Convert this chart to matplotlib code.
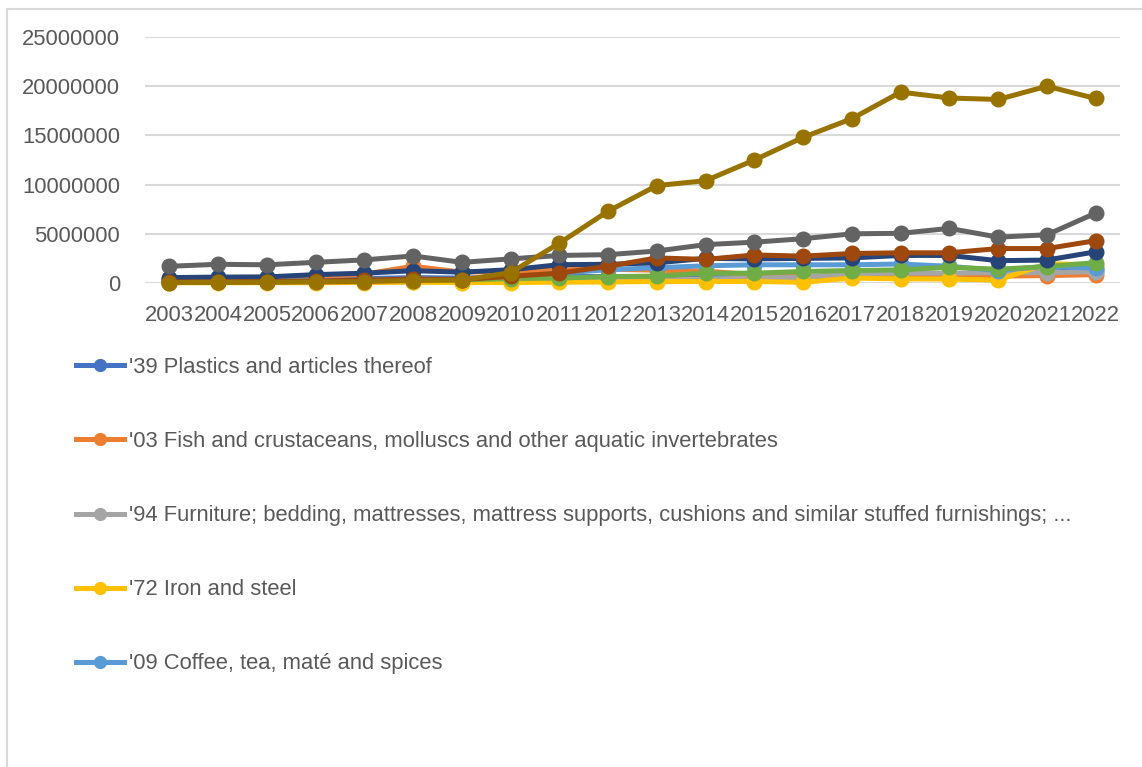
import matplotlib
matplotlib.use("Agg")
import matplotlib.pyplot as plt
from matplotlib.lines import Line2D

plt.rcParams['font.family'] = ['Liberation Sans', 'DejaVu Sans']

years = [str(y) for y in range(2003, 2023)]

plastics = [0.30, 0.32, 0.35, 0.40, 0.45, 0.55, 0.50, 0.60, 0.70, 0.65, 0.60, 0.55, 0.50, 0.60, 0.80, 0.85, 0.90, 0.85, 1.10, 1.30]
fish = [0.30, 0.40, 0.45, 0.60, 0.90, 1.70, 1.10, 1.20, 1.35, 1.40, 1.30, 1.20, 0.85, 0.65, 0.80, 0.85, 0.85, 0.70, 0.75, 0.85]
furniture = [0.05, 0.06, 0.07, 0.08, 0.10, 0.12, 0.10, 0.15, 0.20, 0.25, 0.30, 0.40, 0.50, 0.60, 0.95, 1.00, 1.00, 1.05, 1.05, 1.15]
iron = [0.02, 0.02, 0.03, 0.03, 0.05, 0.08, 0.04, 0.05, 0.08, 0.10, 0.15, 0.15, 0.15, 0.07, 0.50, 0.42, 0.40, 0.30, 1.95, 1.85]
coffee = [0.15, 0.18, 0.20, 0.25, 0.30, 0.40, 0.35, 0.60, 1.00, 1.35, 1.55, 1.75, 1.85, 1.85, 1.85, 1.93, 1.70, 1.27, 1.70, 1.50]
series6 = [0.10, 0.12, 0.15, 0.18, 0.22, 0.30, 0.30, 0.45, 0.50, 0.65, 0.70, 1.00, 1.00, 1.17, 1.27, 1.33, 1.60, 1.40, 1.67, 2.07]
series7 = [0.55, 0.60, 0.62, 0.85, 1.00, 1.25, 1.10, 1.35, 1.86, 1.90, 2.05, 2.50, 2.45, 2.50, 2.55, 2.80, 2.80, 2.27, 2.33, 3.17]
series8 = [0.10, 0.12, 0.15, 0.20, 0.30, 0.40, 0.35, 0.68, 1.00, 1.70, 2.55, 2.40, 2.85, 2.73, 3.00, 3.07, 3.07, 3.50, 3.50, 4.30]
series9 = [1.70, 1.90, 1.85, 2.10, 2.35, 2.75, 2.10, 2.45, 2.80, 2.88, 3.25, 3.90, 4.15, 4.50, 5.00, 5.05, 5.55, 4.66, 4.90, 7.10]
series10 = [0.05, 0.06, 0.07, 0.10, 0.15, 0.25, 0.30, 1.05, 4.05, 7.30, 9.90, 10.40, 12.50, 14.80, 16.70, 19.40, 18.80, 18.65, 20.00, 18.75]

legend_labels = [
    "'39 Plastics and articles thereof",
    "'03 Fish and crustaceans, molluscs and other aquatic invertebrates",
    "'94 Furniture; bedding, mattresses, mattress supports, cushions and similar stuffed furnishings; ...",
    "'72 Iron and steel",
    "'09 Coffee, tea, maté and spices",
]

all_series = [plastics, fish, furniture, iron, coffee, series6, series7, series8, series9, series10]
colors = ['#4472C4', '#ED7D31', '#A5A5A5', '#FFC000', '#5B9BD5',
          '#70AD47', '#264478', '#9E480E', '#636363', '#997300']

W, H = 1142, 767
fig = plt.figure(figsize=(W / 100, H / 100), dpi=100)
fig.patch.set_facecolor('white')

ax = fig.add_axes([145 / W, (H - 283) / H, 975 / W, 246 / H])
x = list(range(len(years)))
for s, c in zip(all_series, colors):
    ax.plot(x, [v * 1e6 for v in s], color=c, lw=3.6, marker='o', ms=10.5,
            solid_joinstyle='round', clip_on=False, zorder=3)

ax.set_xlim(-0.5, len(years) - 0.5)
ax.set_ylim(0, 25000000)
ax.set_yticks([0, 5000000, 10000000, 15000000, 20000000, 25000000])
ax.set_yticklabels(['0', '5000000', '10000000', '15000000', '20000000', '25000000'])
ax.set_xticks(x)
ax.set_xticklabels(years)
ax.grid(axis='y', color='#D9D9D9', lw=1.5, zorder=0)
ax.set_axisbelow(True)
for sp in ax.spines.values():
    sp.set_visible(False)
ax.tick_params(axis='both', length=0, labelsize=15.8, labelcolor='#595959')
ax.tick_params(axis='y', pad=18)
ax.tick_params(axis='x', pad=16)

# chart border (top and left visible)
fig.add_artist(Line2D([7 / W, 7 / W], [0, 1 - 9 / H], transform=fig.transFigure, color='#D9D9D9', lw=1.5))
fig.add_artist(Line2D([7 / W, 1], [1 - 9 / H, 1 - 9 / H], transform=fig.transFigure, color='#D9D9D9', lw=1.5))

handles = [Line2D([], [], color=c, lw=3.6, marker='o', ms=8.5) for c in colors[:5]]
leg = fig.legend(handles, legend_labels, loc='upper left', bbox_to_anchor=(76 / W, 1 - 357 / H),
                 frameon=False, fontsize=15.8, handlelength=2.2, handletextpad=0.2,
                 labelspacing=2.42, labelcolor='#595959', borderaxespad=0, borderpad=0)

fig.savefig('out.png', dpi=100)
